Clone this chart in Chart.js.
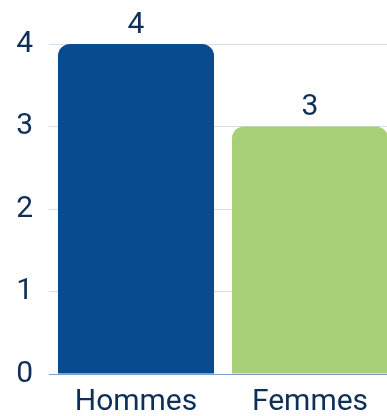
<!DOCTYPE html>
<html>
<head>
<meta charset="utf-8">
<script src="https://cdn.jsdelivr.net/npm/chart.js@4"></script>
<style>
  html, body { margin: 0; padding: 0; background: #fff; overflow: hidden; }
  #wrap { width: 387px; height: 416px; overflow: hidden; }
</style>
</head>
<body>
<div id="wrap"><canvas id="chart" width="397" height="416"></canvas></div>
<script>
const categories = ["Hommes", "Femmes"];
const values = [4, 3];
const barColors = ["#084b8f", "#a8d177"];
const yTicks = [0, 1, 2, 3, 4];

const textColor = "#0e2f58";
const fontFamily = "Roboto, 'DejaVu Sans', sans-serif";

// valeurs au-dessus des barres
const valueLabels = {
    id: "valueLabels",
    afterDatasetsDraw(chart) {
        const ctx = chart.ctx;
        const meta = chart.getDatasetMeta(0);
        ctx.save();
        ctx.fillStyle = textColor;
        ctx.font = "30px " + fontFamily;
        ctx.textAlign = "center";
        ctx.textBaseline = "bottom";
        meta.data.forEach(function (bar, i) {
            ctx.fillText(String(values[i]), bar.x, bar.y - 4);
        });
        ctx.restore();
    },
};

const config = {
    type: "bar",
    data: {
        labels: categories,
        datasets: [
            {
                data: values,
                backgroundColor: barColors,
                borderWidth: 0,
                borderRadius: { topLeft: 12, topRight: 12 },
                borderSkipped: "bottom",
                barPercentage: 1,
                categoryPercentage: 0.897,
            },
        ],
    },
    plugins: [valueLabels],
    options: {
        responsive: false,
        animation: false,
        layout: {
            padding: { top: 44, right: 0, bottom: 0, left: 0 },
        },
        plugins: {
            legend: { display: false },
            tooltip: { enabled: false },
        },
        scales: {
            x: {
                afterFit: function (scale) {
                    scale.height = 42;
                },
                grid: { display: false, drawTicks: false },
                border: { display: true, color: "#7f9cc8", width: 1, z: 1 },
                ticks: {
                    color: textColor,
                    font: { family: fontFamily, size: 30 },
                    padding: 10,
                },
            },
            y: {
                min: 0,
                max: 4,
                afterFit: function (scale) {
                    scale.width = 49;
                },
                afterBuildTicks: function (scale) {
                    scale.ticks = yTicks.map((v) => ({ value: v }));
                },
                grid: { color: "#d5dde8", drawTicks: false },
                border: { display: false },
                ticks: {
                    color: textColor,
                    font: { family: fontFamily, size: 30 },
                    padding: 16,
                },
            },
        },
    },
};

new Chart(document.getElementById("chart"), config);
</script>
</body>
</html>
